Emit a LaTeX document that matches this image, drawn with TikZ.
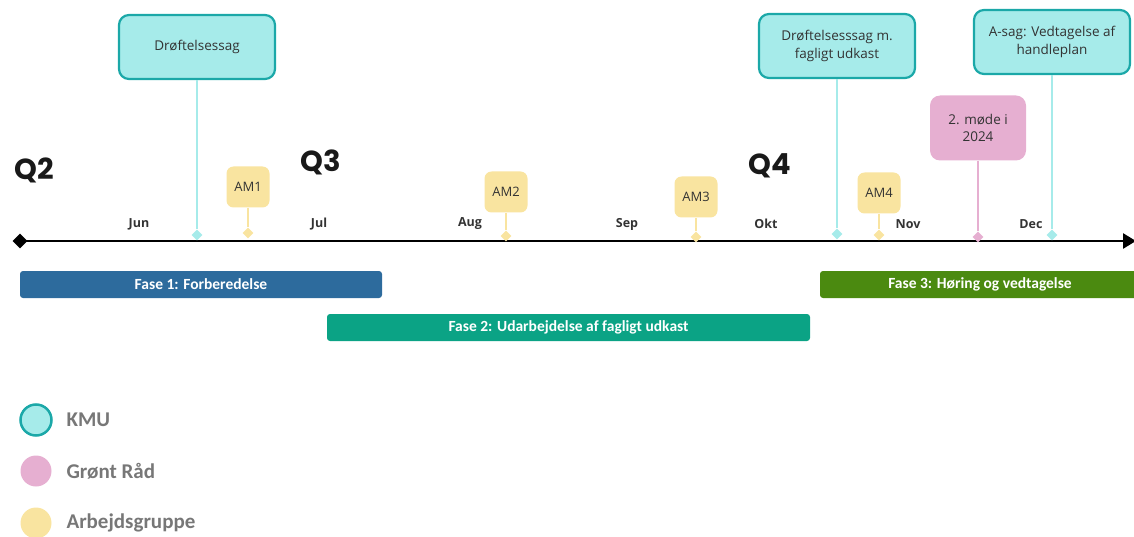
\documentclass[tikz,border=0pt]{standalone}
\usepackage{fontspec}
\setmainfont{Open Sans}
\newfontfamily\qfont{Poppins}
\newfontfamily\fasefont{Carlito}
\usepackage{tikz}
\usetikzlibrary{positioning}
\usetikzlibrary{shapes.geometric,arrows.meta}

\definecolor{kmufill}{HTML}{A6EBEA}
\definecolor{kmuline}{HTML}{1BA8A8}
\definecolor{raadfill}{HTML}{E6AFD1}
\definecolor{amfill}{HTML}{F9E4A0}
\definecolor{faseA}{HTML}{2D6B9D}
\definecolor{faseB}{HTML}{0BA385}
\definecolor{faseC}{HTML}{4B8A10}
\definecolor{legtext}{HTML}{777777}
\definecolor{monthtext}{HTML}{333333}

\begin{document}
\begin{tikzpicture}[
		x=1pt,y=-1pt,
		kmubox/.style={draw=kmuline, line width=2.2pt, fill=kmufill, rounded corners=10pt,
			minimum width=156pt, minimum height=64pt, align=center, text=black!80,
			font=\fontsize{13.5}{17.5}\selectfont},
		raadbox/.style={fill=raadfill, rounded corners=10pt, minimum width=96pt,
			minimum height=65pt, align=center, text=black!80, font=\fontsize{13.5}{17.5}\selectfont},
		ambox/.style={fill=amfill, rounded corners=7pt, minimum width=43pt, minimum height=41pt,
			inner sep=0pt, text=black!80, font=\fontsize{13}{15}\selectfont},
		dmark/.style={diamond, fill=#1, minimum size=11pt, inner sep=0pt},
		stem/.style={line width=1.2pt, draw=#1},
		fase/.style={fill=#1, rounded corners=3pt, minimum height=27pt, inner sep=0pt,
			text=white, font=\fasefont\bfseries\fontsize{15.5}{17}\selectfont},
		month/.style={text=monthtext, font=\bfseries\fontsize{12.5}{14}\selectfont},
		quarter/.style={font=\qfont\bfseries\fontsize{29}{32}\selectfont, text=black!90},
		legdot/.style={circle, minimum size=31pt, inner sep=0pt},
		legend/.style={anchor=west, text=legtext, font=\fasefont\bfseries\fontsize{21}{24}\selectfont}
	]
	\useasboundingbox (0,0) rectangle (1134,537);

	% tidslinje
	\node[diamond, fill=black, minimum size=15pt, inner sep=0pt] (start) at (20,241) {};
	\coordinate (slut) at (1136,241);
	\draw[line width=2.6pt, -{Triangle[length=13pt,width=15pt]}] (start.center) -- (slut);

	% kvartaler og maaneder
	\node[quarter] (q2) at (34,170) {Q2};
	\node[quarter] (q3) at (321,162) {Q3};
	\node[quarter] (q4) at (770,166) {Q4};
	\foreach \m/\x in {Jun/139,Jul/319,Aug/470,Sep/627,Okt/766,Nov/908,Dec/1031}
		\node[month] (m\m) at (\x,224) {\m};

	% KMU
	\node[kmubox] (kmuA) at (197,47) {Drøftelsessag};
	\node[kmubox] (kmuB) at (837,46) {Drøftelsesssag m.\\fagligt udkast};
	\node[kmubox] (kmuC) at (1052,42) {A-sag: Vedtagelse af\\handleplan};
	\node[dmark=kmufill] (dA) at (197,235) {};
	\node[dmark=kmufill] (dB) at (837,234) {};
	\node[dmark=kmufill] (dC) at (1052,235) {};
	\draw[stem=kmufill] (kmuA) -- (dA);
	\draw[stem=kmufill] (kmuB) -- (dB);
	\draw[stem=kmufill] (kmuC) -- (dC);

	% Groent Raad
	\node[raadbox] (raad) at (978,128) {2. møde i\\2024};
	\node[dmark=raadfill] (dR) at (978,237) {};
	\draw[stem=raadfill] (raad) -- (dR);

	% arbejdsgruppe
	\foreach \n/\x/\y/\d in {1/248/187/233, 2/506/192/236, 3/696/197/237, 4/879/193/235} {
		\node[ambox] (am\n) at (\x,\y) {AM\n};
		\node[dmark=amfill] (dam\n) at (\x,\d) {};
		\draw[stem=amfill] (am\n) -- (dam\n);
	}

	% faser
	\node[fase=faseA, minimum width=362pt] (fase1) at (201,284.5) {Fase 1: Forberedelse};
	\node[fase=faseB, minimum width=483pt] (fase2) at (568.5,327.5) {Fase 2: Udarbejdelse af fagligt udkast};
	\node[fase=faseC, minimum width=320pt] (fase3) at (980,284.5) {Fase 3: Høring og vedtagelse};

	% forklaring
	\node[legdot, fill=kmufill, draw=kmuline, line width=2.5pt] (legA) at (36,420) {};
	\node[legdot, fill=raadfill] (legB) at (36,471) {};
	\node[legdot, fill=amfill] (legC) at (36,523) {};
	\node[legend] at (63,420) {KMU};
	\node[legend] at (63,471) {Grønt Råd};
	\node[legend] at (63,523) {Arbejdsgruppe};
\end{tikzpicture}
\end{document}
